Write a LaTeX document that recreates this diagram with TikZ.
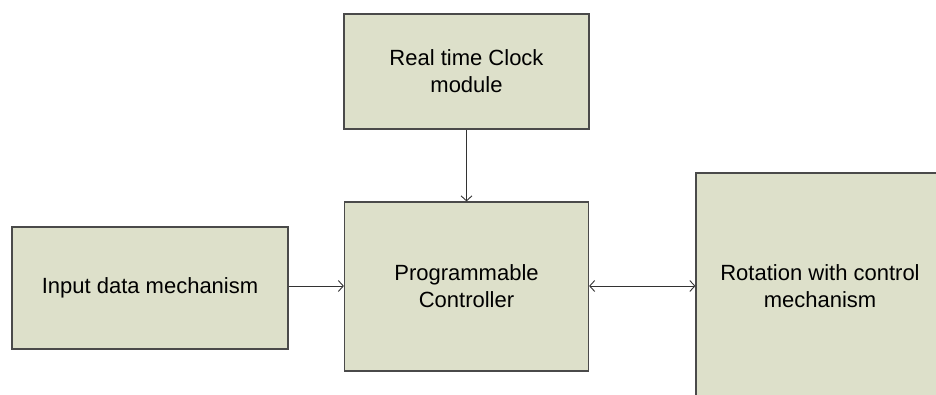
\documentclass[tikz,border=0pt]{standalone}
\usepackage{fontspec}
\setmainfont{Liberation Sans}
\usetikzlibrary{arrows.meta}
\definecolor{boxfill}{HTML}{DDE0CA}
\definecolor{boxline}{HTML}{4A4A4A}

\begin{document}
\begin{tikzpicture}[x=1pt,y=-1pt]
\tikzstyle{block}=[draw=boxline,line width=1.2pt,fill=boxfill,inner sep=0pt,align=center,font=\fontsize{22}{27}\selectfont]
\tikzstyle{link}=[draw=black!80,line width=0.9pt,-{Straight Barb[length=5pt,width=11pt]}]
\useasboundingbox (0,0) rectangle (936,394);
\clip (0,0) rectangle (936,394);
\node [block,minimum width=245pt,minimum height=115pt] (clock) at (466.5,71.5) {Real time Clock\\module};
\node [block,minimum width=244pt,minimum height=169pt] (ctrl) at (466.5,286.5) {Programmable\\Controller};
\node [block,minimum width=276pt,minimum height=122pt] (input) at (150,288) {Input data mechanism};
\node [block,minimum width=248pt,minimum height=226pt] (rot) at (820,286) {Rotation with control\\mechanism};
\draw [link] (clock) -- (ctrl);
\draw [link] (input.east |- 0,286) -- (ctrl.west |- 0,286);
\draw [link,{Straight Barb[length=5pt,width=11pt]}-{Straight Barb[length=5pt,width=11pt]}] (ctrl.east |- 0,286) -- (rot.west |- 0,286);
\end{tikzpicture}
\end{document}
